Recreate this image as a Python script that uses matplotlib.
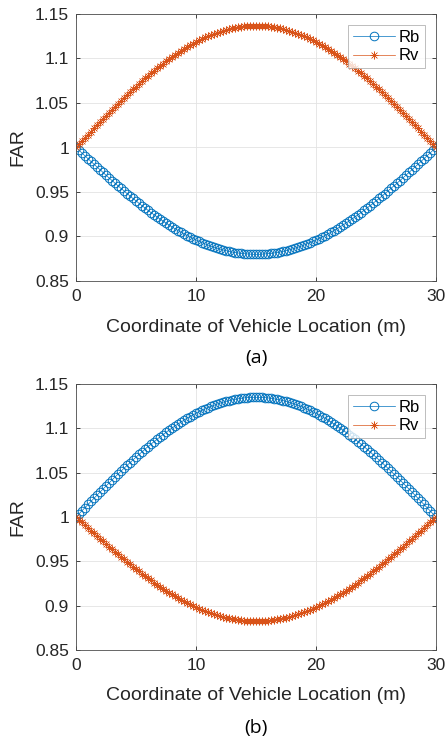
import matplotlib
matplotlib.use("Agg")
import matplotlib.pyplot as plt
import numpy as np

# vehicle position, 0 to 30 m in 0.25 m steps
x_loc = np.arange(0, 30.001, 0.25)

# (a)
rb_a = [
    1.0000, 0.9969, 0.9937, 0.9906, 0.9875, 0.9843, 0.9812, 0.9781, 0.9751, 0.9720,
    0.9689, 0.9659, 0.9629, 0.9599, 0.9570, 0.9541, 0.9512, 0.9483, 0.9455, 0.9427,
    0.9400, 0.9373, 0.9346, 0.9320, 0.9295, 0.9269, 0.9245, 0.9221, 0.9197, 0.9174,
    0.9151, 0.9130, 0.9108, 0.9088, 0.9067, 0.9048, 0.9029, 0.9011, 0.8994, 0.8977,
    0.8961, 0.8946, 0.8931, 0.8917, 0.8904, 0.8891, 0.8880, 0.8869, 0.8859, 0.8849,
    0.8841, 0.8833, 0.8826, 0.8820, 0.8815, 0.8810, 0.8807, 0.8804, 0.8802, 0.8800,
    0.8800,
    0.8800, 0.8802, 0.8804, 0.8807, 0.8810, 0.8815, 0.8820, 0.8826, 0.8833, 0.8841,
    0.8849, 0.8859, 0.8869, 0.8880, 0.8891, 0.8904, 0.8917, 0.8931, 0.8946, 0.8961,
    0.8977, 0.8994, 0.9011, 0.9029, 0.9048, 0.9067, 0.9088, 0.9108, 0.9130, 0.9151,
    0.9174, 0.9197, 0.9221, 0.9245, 0.9269, 0.9295, 0.9320, 0.9346, 0.9373, 0.9400,
    0.9427, 0.9455, 0.9483, 0.9512, 0.9541, 0.9570, 0.9599, 0.9629, 0.9659, 0.9689,
    0.9720, 0.9751, 0.9781, 0.9812, 0.9843, 0.9875, 0.9906, 0.9937, 0.9969, 1.0000,
]
rv_a = [
    1.0000, 1.0036, 1.0072, 1.0107, 1.0143, 1.0179, 1.0214, 1.0250, 1.0285, 1.0320,
    1.0355, 1.0389, 1.0423, 1.0457, 1.0491, 1.0524, 1.0557, 1.0590, 1.0622, 1.0654,
    1.0685, 1.0716, 1.0746, 1.0776, 1.0805, 1.0834, 1.0862, 1.0890, 1.0917, 1.0943,
    1.0969, 1.0994, 1.1018, 1.1042, 1.1065, 1.1087, 1.1108, 1.1129, 1.1149, 1.1168,
    1.1186, 1.1204, 1.1221, 1.1237, 1.1252, 1.1266, 1.1279, 1.1291, 1.1303, 1.1314,
    1.1323, 1.1332, 1.1340, 1.1347, 1.1353, 1.1358, 1.1362, 1.1366, 1.1368, 1.1370,
    1.1370,
    1.1370, 1.1368, 1.1366, 1.1362, 1.1358, 1.1353, 1.1347, 1.1340, 1.1332, 1.1323,
    1.1314, 1.1303, 1.1291, 1.1279, 1.1266, 1.1252, 1.1237, 1.1221, 1.1204, 1.1186,
    1.1168, 1.1149, 1.1129, 1.1108, 1.1087, 1.1065, 1.1042, 1.1018, 1.0994, 1.0969,
    1.0943, 1.0917, 1.0890, 1.0862, 1.0834, 1.0805, 1.0776, 1.0746, 1.0716, 1.0685,
    1.0654, 1.0622, 1.0590, 1.0557, 1.0524, 1.0491, 1.0457, 1.0423, 1.0389, 1.0355,
    1.0320, 1.0285, 1.0250, 1.0214, 1.0179, 1.0143, 1.0107, 1.0072, 1.0036, 1.0000,
]

# (b)
rb_b = [
    1.0000, 1.0035, 1.0071, 1.0106, 1.0141, 1.0176, 1.0211, 1.0246, 1.0281, 1.0315,
    1.0349, 1.0383, 1.0417, 1.0451, 1.0484, 1.0517, 1.0549, 1.0581, 1.0613, 1.0644,
    1.0675, 1.0705, 1.0735, 1.0765, 1.0794, 1.0822, 1.0850, 1.0877, 1.0903, 1.0929,
    1.0955, 1.0979, 1.1003, 1.1027, 1.1049, 1.1071, 1.1092, 1.1113, 1.1132, 1.1151,
    1.1169, 1.1186, 1.1203, 1.1218, 1.1233, 1.1247, 1.1260, 1.1273, 1.1284, 1.1294,
    1.1304, 1.1313, 1.1321, 1.1327, 1.1333, 1.1338, 1.1343, 1.1346, 1.1348, 1.1350,
    1.1350,
    1.1350, 1.1348, 1.1346, 1.1343, 1.1338, 1.1333, 1.1327, 1.1321, 1.1313, 1.1304,
    1.1294, 1.1284, 1.1273, 1.1260, 1.1247, 1.1233, 1.1218, 1.1203, 1.1186, 1.1169,
    1.1151, 1.1132, 1.1113, 1.1092, 1.1071, 1.1049, 1.1027, 1.1003, 1.0979, 1.0955,
    1.0929, 1.0903, 1.0877, 1.0850, 1.0822, 1.0794, 1.0765, 1.0735, 1.0705, 1.0675,
    1.0644, 1.0613, 1.0581, 1.0549, 1.0517, 1.0484, 1.0451, 1.0417, 1.0383, 1.0349,
    1.0315, 1.0281, 1.0246, 1.0211, 1.0176, 1.0141, 1.0106, 1.0071, 1.0035, 1.0000,
]
rv_b = [
    1.0000, 0.9969, 0.9939, 0.9908, 0.9877, 0.9847, 0.9816, 0.9786, 0.9756, 0.9726,
    0.9696, 0.9666, 0.9637, 0.9608, 0.9579, 0.9550, 0.9522, 0.9494, 0.9467, 0.9439,
    0.9413, 0.9386, 0.9360, 0.9334, 0.9309, 0.9285, 0.9261, 0.9237, 0.9214, 0.9191,
    0.9169, 0.9148, 0.9127, 0.9107, 0.9087, 0.9068, 0.9049, 0.9032, 0.9015, 0.8998,
    0.8982, 0.8967, 0.8953, 0.8939, 0.8927, 0.8914, 0.8903, 0.8892, 0.8883, 0.8873,
    0.8865, 0.8857, 0.8851, 0.8845, 0.8839, 0.8835, 0.8831, 0.8829, 0.8827, 0.8825,
    0.8825,
    0.8825, 0.8827, 0.8829, 0.8831, 0.8835, 0.8839, 0.8845, 0.8851, 0.8857, 0.8865,
    0.8873, 0.8883, 0.8892, 0.8903, 0.8914, 0.8927, 0.8939, 0.8953, 0.8967, 0.8982,
    0.8998, 0.9015, 0.9032, 0.9049, 0.9068, 0.9087, 0.9107, 0.9127, 0.9148, 0.9169,
    0.9191, 0.9214, 0.9237, 0.9261, 0.9285, 0.9309, 0.9334, 0.9360, 0.9386, 0.9413,
    0.9439, 0.9467, 0.9494, 0.9522, 0.9550, 0.9579, 0.9608, 0.9637, 0.9666, 0.9696,
    0.9726, 0.9756, 0.9786, 0.9816, 0.9847, 0.9877, 0.9908, 0.9939, 0.9969, 1.0000,
]

x_ticks = [0, 10, 20, 30]
y_ticks = [0.85, 0.9, 0.95, 1.0, 1.05, 1.1, 1.15]
y_tick_labels = ["0.85", "0.9", "0.95", "1", "1.05", "1.1", "1.15"]
panels = [("(a)", rb_a, rv_a), ("(b)", rb_b, rv_b)]

BLUE = "#0072BD"
ORANGE = "#D95319"
plt.rcParams["font.family"] = ["Liberation Sans", "DejaVu Sans"]

fig = plt.figure(figsize=(4.46, 7.40), dpi=100)
W, H = 446, 740
# axes boxes in pixels: left, top, right, bottom, xlabel centre, caption centre
boxes = [(76, 14, 436, 281, 327, 358), (76, 384, 436, 650, 695, 728)]

for (caption, rb, rv), (l, t, r, b, xl_y, cy) in zip(panels, boxes):
    ax = fig.add_axes([l / W, 1 - b / H, (r - l) / W, (b - t) / H])
    ax.plot(x_loc, rb, color=BLUE, lw=0.5, marker="o", ms=6.2, mfc="none",
            mew=0.7, label="Rb")
    ax.plot(x_loc, rv, color=ORANGE, lw=0.5, marker=(8, 2, 0), ms=5.8,
            mew=0.4, label="Rv")
    ax.set_xlim(0, 30)
    ax.set_ylim(0.85, 1.15)
    ax.set_xticks(x_ticks)
    ax.set_yticks(y_ticks)
    ax.set_yticklabels(y_tick_labels)
    ax.grid(True, color="#e3e3e3", lw=0.6)
    ax.set_axisbelow(True)
    ax.tick_params(direction="in", length=3, width=0.6, colors="#262626",
                   labelsize=12.5, top=True, right=True)
    ax.tick_params(axis="x", pad=6)
    ax.tick_params(axis="y", pad=5)
    for sp in ax.spines.values():
        sp.set_color("#4d4d4d")
        sp.set_linewidth(0.6)

    ax.set_xlabel("Coordinate of Vehicle Location (m)", fontsize=14,
                  color="#262626", va="center")
    ax.xaxis.set_label_coords(0.5, (b - xl_y) / (b - t))
    ax.set_ylabel("FAR", fontsize=14, color="#262626", va="center")
    ax.yaxis.set_label_coords((18 - l) / (r - l), 0.5)

    leg = ax.legend(loc="upper right",
                    bbox_to_anchor=((425 - l) / (r - l), (b - t - 11) / (b - t)),
                    borderaxespad=0, fancybox=False, fontsize=12, handlelength=2.5,
                    handletextpad=0.25, borderpad=0.3, labelspacing=0.2)
    leg.get_frame().set_edgecolor("#a0a0a0")
    leg.get_frame().set_linewidth(0.6)

    fig.text(0.5 * (l + r) / W, 1 - cy / H, caption, ha="center", va="center",
             fontsize=14, family=["Open Sans", "DejaVu Sans"])

fig.savefig("out.png", dpi=100)
